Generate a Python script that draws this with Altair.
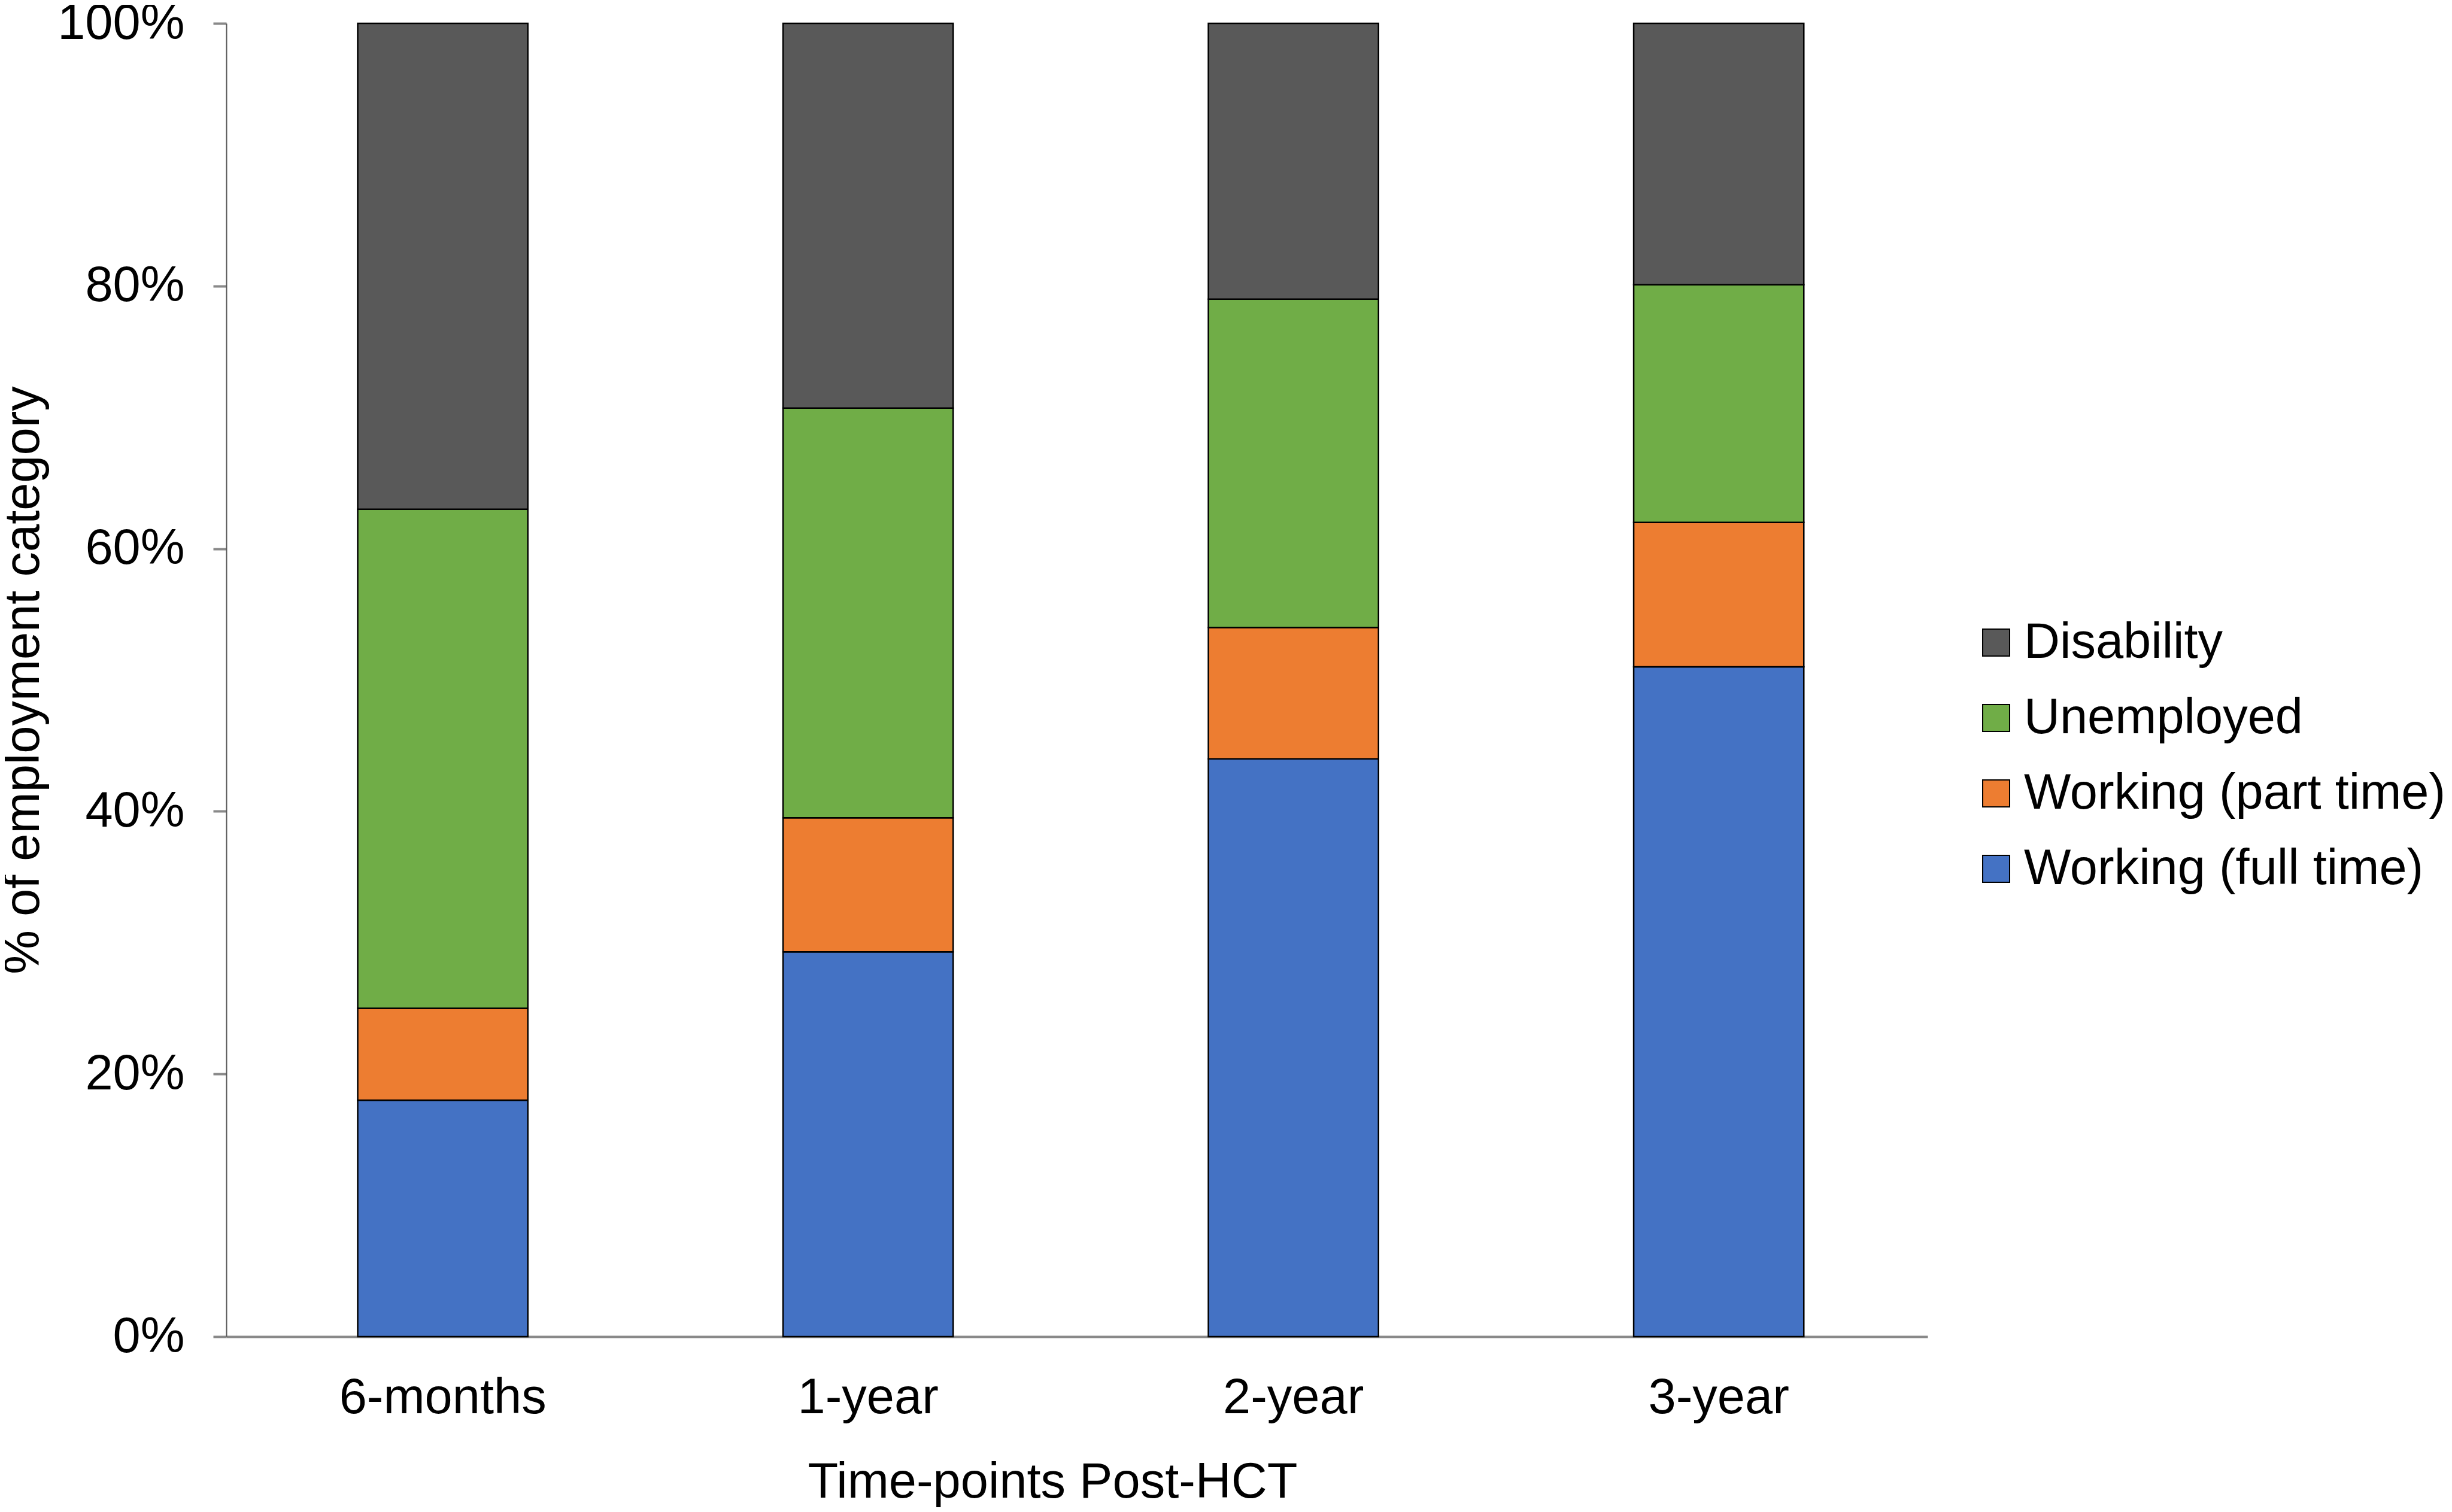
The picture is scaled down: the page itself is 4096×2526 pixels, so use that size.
import altair as alt
import pandas as pd

timepoints = ["6-months", "1-year", "2-year", "3-year"]
categories = ["Disability", "Unemployed", "Working (part time)", "Working (full time)"]
colors = ["#595959", "#70AD47", "#ED7D31", "#4472C4"]

full_time = [18.0, 29.3, 44.0, 51.0]
part_time = [7.0, 10.2, 10.0, 11.0]
unemployed = [38.0, 31.2, 25.0, 18.1]
disability = [37.0, 29.3, 21.0, 19.9]

series = {
    "Working (full time)": full_time,
    "Working (part time)": part_time,
    "Unemployed": unemployed,
    "Disability": disability,
}
stack_rank = {"Working (full time)": 0, "Working (part time)": 1, "Unemployed": 2, "Disability": 3}

rows = []
for cat, vals in series.items():
    for t, v in zip(timepoints, vals):
        rows.append({"time": t, "category": cat, "value": v / 100.0, "rank": stack_rank[cat]})
df = pd.DataFrame(rows)

FONT = "Liberation Sans"
FS = 83

W, H = 2842, 2194
PAD_L, PAD_T = 370, 31
PAD_R = 4096 - 16 - PAD_L - W
PAD_B = 2526 - 16 - PAD_T - H

chart = alt.Chart(df).mark_bar(stroke="black", strokeWidth=2.5).encode(
    x=alt.X(
        "time:N",
        sort=timepoints,
        scale=alt.Scale(paddingInner=0.6, paddingOuter=0.3, align=0.515),
        axis=alt.Axis(
            title="Time-points Post-HCT",
            labelAngle=0,
            labelFont=FONT,
            labelFontSize=FS,
            labelColor="black",
            labelPadding=61,
            labelLimit=2000,
            ticks=False,
            domainColor="#898989",
            domainWidth=4,
            titleFont=FONT,
            titleFontSize=FS,
            titleFontWeight="normal",
            titleColor="black",
            titleX=1380,
            titleY=243,
            titleBaseline="middle",
            titleAlign="center",
            titleLimit=3000,
        ),
    ),
    y=alt.Y(
        "value:Q",
        stack="zero",
        scale=alt.Scale(domain=[0, 1], nice=False),
        axis=alt.Axis(
            title="% of employment category",
            format=".0%",
            values=[0, 0.2, 0.4, 0.6, 0.8, 1.0],
            grid=False,
            labelFont=FONT,
            labelFontSize=FS,
            labelColor="black",
            labelPadding=48,
            labelLimit=2000,
            tickSize=22,
            tickColor="#898989",
            tickWidth=4,
            domainColor="#595959",
            domainWidth=2,
            titleFont=FONT,
            titleFontSize=FS,
            titleFontWeight="normal",
            titleColor="black",
            titleAngle=-90,
            titleX=-339,
            titleY=H / 2,
            titleBaseline="middle",
            titleAlign="center",
            titleLimit=3000,
        ),
    ),
    color=alt.Color(
        "category:N",
        scale=alt.Scale(domain=categories, range=colors),
        legend=alt.Legend(
            title=None,
            orient="none",
            legendX=2915,
            legendY=993,
            symbolType="square",
            symbolSize=2025,
            symbolStrokeColor="black",
            symbolStrokeWidth=2,
            labelFont=FONT,
            labelFontSize=FS,
            labelColor="black",
            labelOffset=5,
            rowPadding=42,
            padding=0,
            labelLimit=2000,
        ),
    ),
    order=alt.Order("rank:Q", sort="ascending"),
).properties(
    width=W,
    height=H,
    autosize=alt.AutoSizeParams(type="none"),
    padding={"left": PAD_L, "top": PAD_T, "right": PAD_R, "bottom": PAD_B},
).configure(background="white").configure_view(stroke=None)

chart.save("out.html", embed_options={"renderer": "svg", "actions": False})
